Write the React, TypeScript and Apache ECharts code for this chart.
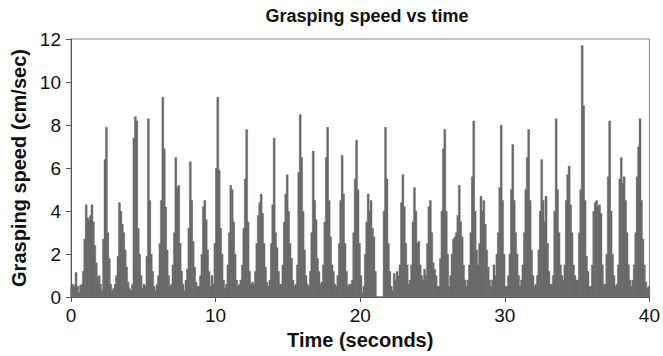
import React, { useEffect, useRef } from "react";
import * as echarts from "echarts";

// Grasping speed (cm/sec), one sample per 0.1 s
const speed00to10 = [
  0.55, 0.6, 0.5, 1.15, 0.5, 0.2, 0.55, 0.6, 1.2, 2.7,
  4.3, 3.7, 3.6, 3.8, 4.3, 3.5, 2.4, 1.6, 0.9, 1.0,
  0.6, 0.3, 2.7, 6.4, 7.9, 3.0, 1.8, 0.6, 0.3, 0.4,
  0.6, 1.0, 1.9, 4.4, 4.0, 3.4, 3.0, 2.2, 1.4, 0.7,
  0.4, 0.3, 0.6, 7.4, 8.4, 8.2, 3.2, 2.0, 1.0, 0.4,
  0.6, 0.5, 1.9, 8.3, 4.5, 2.0, 1.2, 0.5, 0.3, 0.6,
  1.0, 2.5, 4.5, 9.3, 6.9, 4.2, 2.2, 1.0, 0.5, 0.6,
  1.5, 3.0, 6.5, 5.1, 5.2, 2.5, 1.2, 0.6, 0.3, 0.8,
  1.3, 3.2, 6.3, 4.5, 2.6, 1.4, 0.7, 0.5, 0.5, 1.0,
  2.0, 4.2, 4.5, 3.6, 2.2, 1.2, 0.5, 1.0, 0.6, 2.5,
];
const speed10to20 = [
  6.0, 9.3, 5.9, 3.2, 2.0, 0.8, 0.4, 0.6, 1.5, 3.0,
  5.2, 5.0, 3.5, 2.0, 0.8, 0.5, 0.6, 0.8, 1.5, 3.2,
  5.5, 7.8, 3.5, 1.2, 0.6, 0.7, 0.6, 1.2, 2.5, 3.8,
  4.4, 4.8, 3.9, 2.5, 1.4, 0.7, 0.5, 0.8, 2.5, 4.3,
  7.4, 3.0, 2.3, 1.2, 0.6, 0.6, 1.5, 3.5, 4.8, 5.7,
  4.0, 2.5, 1.8, 0.8, 0.5, 0.6, 1.5, 5.8, 8.5, 6.5,
  4.0, 2.2, 1.0, 0.6, 0.5, 1.2, 3.0, 6.8, 4.5, 3.6,
  1.8, 1.2, 0.6, 0.7, 1.5, 3.5, 6.5, 7.9, 4.5, 2.8,
  1.5, 1.2, 0.6, 0.5, 1.0, 2.5, 4.5, 6.6, 4.8, 2.5,
  1.2, 0.5, 0.6, 0.6, 0.8, 3.0, 5.5, 7.3, 5.0, 2.5,
];
const speed20to30 = [
  1.0, 0.2, 0.5, 2.0, 3.5, 4.8, 4.0, 4.5, 3.2, 2.8,
  1.2, 0, 0, 0, 0, 0, 4.0, 7.9, 5.5, 2.5,
  1.2, 0.5, 0.3, 1.1, 0.8, 1.2, 1.0, 1.5, 4.4, 5.7,
  4.2, 2.5, 1.5, 0.6, 0.8, 1.5, 3.5, 5.1, 4.0, 2.5,
  2.6, 1.5, 1.0, 0.8, 1.3, 1.0, 2.5, 4.2, 4.5, 3.0,
  1.6, 1.3, 1.0, 0.5, 0.5, 1.8, 4.0, 6.9, 7.8, 4.0,
  2.0, 0.5, 1.0, 2.0, 2.7, 2.8, 3.0, 3.8, 5.2, 3.5,
  2.8, 1.5, 0.8, 0.5, 0.8, 1.5, 3.0, 5.6, 8.2, 4.0,
  2.2, 1.5, 2.5, 4.7, 4.0, 4.5, 3.4, 2.2, 1.4, 0.8,
  0.5, 0.8, 1.5, 1.0, 2.0, 3.0, 5.1, 8.0, 4.5, 2.0,
];
const speed30to40 = [
  0.5, 0.5, 1.0, 2.0, 5.0, 7.1, 4.5, 3.0, 2.0, 1.0,
  0.5, 0.8, 1.5, 3.0, 5.0, 6.5, 7.8, 4.5, 2.2, 1.0,
  0.5, 0.6, 1.0, 2.2, 4.0, 6.4, 4.5, 3.5, 4.7, 2.5,
  1.2, 0.6, 0.6, 1.0, 4.0, 8.3, 5.0, 3.0, 1.5, 1.0,
  0.8, 1.5, 4.5, 5.7, 6.1, 4.3, 3.0, 1.5, 1.0, 0.8,
  0.8, 3.0, 5.0, 11.7, 8.9, 4.5, 1.9, 1.2, 0.5, 0.5,
  1.5, 4.0, 4.4, 4.5, 4.2, 4.3, 3.9, 1.5, 0.6, 0.6,
  2.0, 5.6, 8.2, 4.0, 2.0, 1.0, 0.5, 0.6, 1.5, 5.5,
  6.5, 5.3, 5.6, 4.5, 3.0, 1.5, 0.8, 0.5, 0.8, 1.5,
  3.0, 5.6, 7.0, 8.3, 4.5, 2.7, 1.5, 0.7, 0.4, 0.5,
];

const sampleStep = 0.1; // seconds per sample
const timeTicks = { min: 0, max: 40, interval: 10 };
const speedTicks = { min: 0, max: 12, interval: 2 };

const FONT = "'Liberation Sans', Arial, sans-serif";

export default function App() {
  const ref = useRef<HTMLDivElement>(null);

  useEffect(() => {
    if (!ref.current) return;
    const chart = echarts.init(ref.current, undefined, { renderer: "svg" });
    const speed = [...speed00to10, ...speed10to20, ...speed20to30, ...speed30to40];
    const data = speed.map((v, i) => [Math.round((i + 0.5) * sampleStep * 100) / 100, v]);

    chart.setOption({
      animation: false,
      backgroundColor: "#ffffff",
      title: {
        text: "Grasping speed vs time",
        left: 362,
        top: 2,
        textAlign: "center",
        textStyle: { fontFamily: FONT, fontSize: 18, fontWeight: "bold", color: "#111" },
      },
      grid: {
        left: 71,
        right: 10,
        top: 39,
        bottom: 59,
        show: true,
        borderColor: "#8a8a8a",
        borderWidth: 1,
        backgroundColor: "transparent",
      },
      xAxis: {
        type: "value",
        min: timeTicks.min,
        max: timeTicks.max,
        interval: timeTicks.interval,
        name: "Time (seconds)",
        nameLocation: "middle",
        nameGap: 33,
        nameTextStyle: { fontFamily: FONT, fontSize: 20, fontWeight: "bold", color: "#111" },
        axisLine: { show: true, onZero: false, lineStyle: { color: "#555", width: 1 } },
        axisTick: { show: true, inside: false, length: 5, lineStyle: { color: "#555" } },
        axisLabel: { fontFamily: FONT, fontSize: 19, color: "#111", margin: 9 },
        splitLine: { show: false },
      },
      yAxis: {
        type: "value",
        min: speedTicks.min,
        max: speedTicks.max,
        interval: speedTicks.interval,
        name: "Grasping speed (cm/sec)",
        nameLocation: "middle",
        nameGap: 42,
        nameTextStyle: { fontFamily: FONT, fontSize: 20, fontWeight: "bold", color: "#111" },
        axisLine: { show: true, lineStyle: { color: "#555", width: 1 } },
        axisTick: { show: true, inside: false, length: 5, lineStyle: { color: "#555" } },
        axisLabel: { fontFamily: FONT, fontSize: 19, color: "#111", margin: 10 },
        splitLine: { show: false },
      },
      series: [
        {
          type: "bar",
          data,
          barWidth: 2.4,
          itemStyle: { color: "#6a6a6a", borderColor: "#6a6a6a", borderWidth: 0.4 },
          silent: true,
        },
      ],
    });

    return () => chart.dispose();
  }, []);

  return (
    <div
      ref={ref}
      style={{ position: "fixed", left: 0, top: 0, width: 663, height: 356, background: "#fff" }}
    />
  );
}
